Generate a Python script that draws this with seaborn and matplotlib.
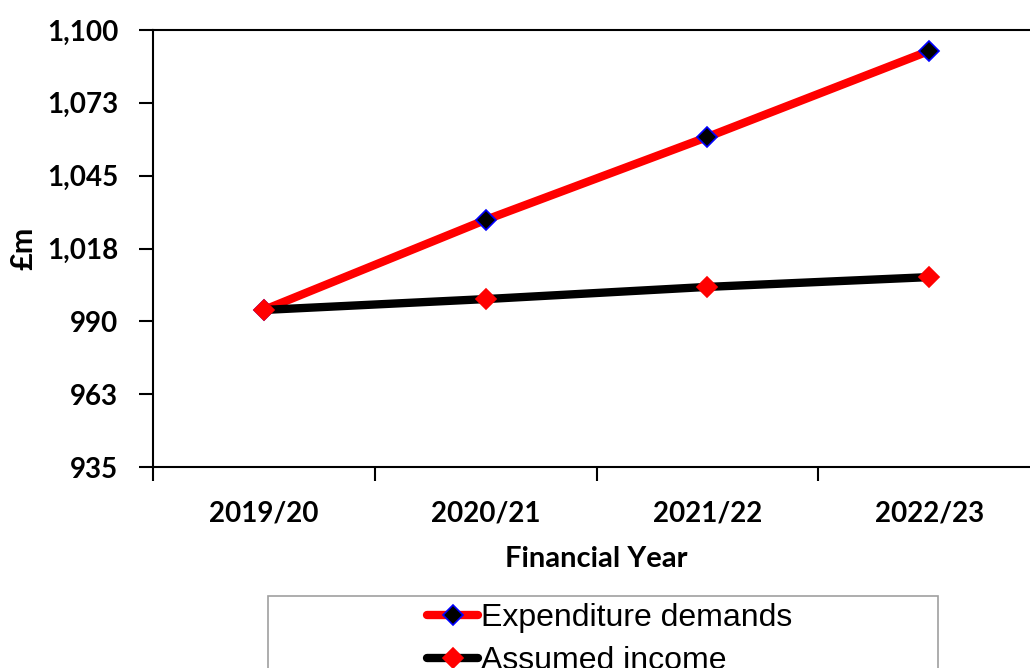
import matplotlib
matplotlib.use("Agg")
import matplotlib.pyplot as plt
import seaborn as sns
import pandas as pd
from matplotlib.patches import Rectangle

# chart data
years = ["2019/20", "2020/21", "2021/22", "2022/23"]
expenditure = [994.3, 1028.3, 1059.6, 1092.1]
income = [994.3, 998.4, 1003.0, 1006.7]
y_ticks = [935, 962.5, 990, 1017.5, 1045, 1072.5, 1100]
y_labels = ["935", "963", "990", "1,018", "1,045", "1,073", "1,100"]

df = pd.DataFrame({"year": years, "exp": expenditure, "inc": income})

sns.set_style("white")
plt.rcParams['font.family'] = ['Lato', 'DejaVu Sans']
plt.rcParams.update({"text.color": "black", "axes.labelcolor": "black",
                     "xtick.color": "black", "ytick.color": "black"})

fig = plt.figure(figsize=(10.3, 6.68), dpi=100)
ax = fig.add_axes([153 / 1030, 1 - 467 / 668, (1040 - 153) / 1030, 437 / 668])

sns.lineplot(data=df, x="year", y="exp", ax=ax, color="#ff0000", linewidth=6,
             marker="D", markersize=10, markerfacecolor="black",
             markeredgecolor="blue", markeredgewidth=1.2,
             label="Expenditure demands", legend=False)
sns.lineplot(data=df, x="year", y="inc", ax=ax, color="black", linewidth=6,
             marker="D", markersize=10, markerfacecolor="#ff0000",
             markeredgecolor="#ff0000", markeredgewidth=1.2,
             label="Assumed income", legend=False)

ax.set_xlim(-0.5, 3.5)
ax.set_ylim(935, 1100)
ax.set_yticks(y_ticks)
ax.set_yticklabels(y_labels, fontsize=20, fontweight="bold")
ax.set_xticks(range(len(years)))
ax.set_xticklabels(years, fontsize=20, fontweight="bold")
ax.set_xticks([i - 0.5 for i in range(len(years) + 1)], minor=True)
ax.tick_params(axis="x", which="major", length=0, pad=24)
ax.tick_params(axis="x", which="minor", length=10, width=1.5, direction="out", bottom=True)
ax.tick_params(axis="y", length=10, width=1.5, direction="out", left=True, pad=15)

for s in ax.spines.values():
    s.set_color("black")
    s.set_linewidth(1.5)

ax.set_xlabel("Financial Year", fontsize=21, fontweight="bold", labelpad=14)
ax.set_ylabel("£m", fontsize=22, fontweight="bold", labelpad=7)

# legend box
fig.patches.append(Rectangle((268 / 1030, 1 - 700 / 668), 670 / 1030, 104 / 668,
                             transform=fig.transFigure, facecolor="white",
                             edgecolor="#a0a0a0", linewidth=1.2))
handles, labels = ax.get_legend_handles_labels()
leg = fig.legend(handles, labels, loc="upper left",
                 bbox_to_anchor=(427 / 1030, 1 - 603 / 668), frameon=False,
                 prop={"family": "Liberation Sans", "size": 23},
                 handlelength=1.6, handletextpad=0.1, labelspacing=0.4,
                 borderaxespad=0, borderpad=0)

fig.savefig("out.png", dpi=100)
